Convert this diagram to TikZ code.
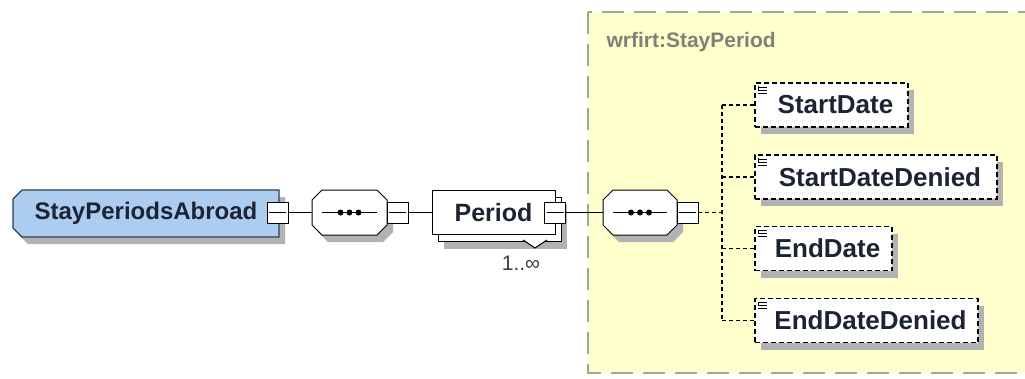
\documentclass[tikz,border=0pt]{standalone}
\usepackage{fontspec}
\setmainfont{Liberation Sans}
\usetikzlibrary{shadows,calc}
\pgfdeclarelayer{background}
\pgfsetlayers{background,main}
\definecolor{spablue}{RGB}{172,204,240}
\definecolor{spaborder}{RGB}{45,60,80}
\definecolor{ybg}{RGB}{255,255,206}
\definecolor{yborder}{RGB}{165,165,150}
\definecolor{shadowgray}{RGB}{178,178,178}
\definecolor{txtdark}{RGB}{28,36,52}
\definecolor{labelgray}{RGB}{128,128,120}
\tikzset{
  shd/.style={drop shadow={shadow xshift=6pt,shadow yshift=-7pt,fill=shadowgray,opacity=1}},
  bigtext/.style={font=\fontsize{25}{30}\selectfont\bfseries, text=txtdark},
  roottext/.style={font=\fontsize{24}{30}\selectfont\bfseries, text=txtdark},
  elemtext/.style={font=\fontsize{26}{30}\selectfont\bfseries, text=txtdark},
  shapebox/.style={inner sep=0pt, outer sep=0pt},
  minusbox/.style={draw=black, fill=white, minimum size=21pt, inner sep=0pt, outer sep=0pt, line width=1pt,
    path picture={\draw[line width=1pt] ([xshift=2pt]path picture bounding box.west) -- ([xshift=-2pt]path picture bounding box.east);}},
  elem/.style={draw=black, fill=white, line width=1.3pt, dash pattern=on 5pt off 3pt, shd, inner sep=0pt, outer sep=0pt, minimum height=44pt, elemtext},
  conn/.style={draw=black, line width=1pt},
  dconn/.style={draw=black, line width=1.2pt, dash pattern=on 4pt off 3pt},
}
\newcommand{\seqshape}[1]{%
  \path[draw=black, fill=white, line width=1pt, shd]
    ([xshift=10pt]#1.north west) -- ([xshift=-10pt]#1.north east) -- ([yshift=-10pt]#1.north east)
    -- ([yshift=10pt]#1.south east) -- ([xshift=-10pt]#1.south east) -- ([xshift=10pt]#1.south west)
    -- ([yshift=10pt]#1.south west) -- ([yshift=-10pt]#1.north west) -- cycle;
  \draw[line width=1pt] ([xshift=10pt]#1.west) -- ([xshift=-10pt]#1.east);
  \fill ([xshift=-9pt]#1.center) circle (3pt) (#1.center) circle (3pt) ([xshift=9pt]#1.center) circle (3pt);}
\newcommand{\elemicon}[1]{%
  \draw[line width=0.8pt] ([xshift=3pt,yshift=-4pt]#1.north west) -- ++(9pt,0pt)
    ([xshift=3pt,yshift=-7pt]#1.north west) -- ++(9pt,0pt)
    ([xshift=3pt,yshift=-10pt]#1.north west) -- ++(9pt,0pt)
    ([xshift=3pt,yshift=-3pt]#1.north west) -- ++(0pt,-4pt);}
\begin{document}
\begin{tikzpicture}[x=1pt,y=-1pt]
\useasboundingbox (0,0) rectangle (1025,378);
\node[anchor=west, font=\fontsize{21}{25}\selectfont\bfseries, text=labelgray] (typename) at (603,42) {wrfirt:StayPeriod};

% root element
\node[shapebox, roottext, minimum width=266pt, minimum height=47pt] (spa) at (146,213.5) {StayPeriodsAbroad\hspace{18pt}};
\node[minusbox] (m1) at (277.5,212.5) {};
% sequence 1
\node[shapebox, minimum width=75pt, minimum height=45pt] (s1) at (349.5,212.5) {};
\node[minusbox] (m2) at (397.5,212.5) {};
% Period
\node[shapebox, bigtext, minimum width=123pt, minimum height=44pt] (per) at (493.5,212.5) {Period\hspace{7pt}};
\node[minusbox] (m3) at (555,212.5) {};
\node[font=\fontsize{21}{25}\selectfont, text=black!75] (card) at (521,263) {1..∞};
% sequence 2
\node[shapebox, minimum width=74pt, minimum height=45pt] (s2) at (640,212.5) {};
\node[minusbox] (m4) at (687.5,212.5) {};
\coordinate (bus) at (722,212.5);
% child elements
\node[elem, minimum width=153pt] (sd) at (831.5,105) {\hspace{8pt}StartDate};
\node[elem, minimum width=242pt] (sdd) at (876,177) {\hspace{8pt}StartDateDenied};
\node[elem, minimum width=137pt] (ed) at (823.5,248.5) {\hspace{8pt}EndDate};
\node[elem, minimum width=223pt] (edd) at (866.5,320.5) {\hspace{8pt}EndDateDenied};
\elemicon{sd}\elemicon{sdd}\elemicon{ed}\elemicon{edd}

\begin{pgfonlayer}{background}
  \fill[white] (0,0) rectangle (1025,378);
  \begin{scope}
    \clip (0,0) rectangle (1025,378);
    \path[draw=yborder, fill=ybg, line width=2pt, dash pattern=on 22pt off 10pt] (588,12) rectangle (1045,373);
  \end{scope}
  \path[draw=spaborder, fill=spablue, line width=1.3pt, shd]
    ([xshift=9pt]spa.north west) -- (spa.north east) -- (spa.south east)
    -- ([xshift=9pt]spa.south west) -- ([yshift=9pt]spa.south west) -- ([yshift=-9pt]spa.north west) -- cycle;
  \seqshape{s1}
  \seqshape{s2}
  \path[draw=black, fill=white, line width=1pt, shd]
    ([xshift=6pt,yshift=-7pt]per.north west) rectangle ([xshift=6pt,yshift=-7pt]per.south east);
  \path[draw=black, fill=white, line width=1pt] (per.north west) rectangle (per.south east);
  \path[draw=black, fill=white, line width=1pt] (523,240) -- (535,248) -- (547,240);
\end{pgfonlayer}

% connectors
\draw[conn] (m1.east) -- (s1.west);
\draw[conn] (m2.east) -- (per.west);
\draw[conn] (m3.east) -- (s2.west);
\draw[dconn] (m4.east) -- (bus);
\draw[dconn] (sd.west -| bus) -- (edd.west -| bus);
\draw[dconn] (sd.west -| bus) -- (sd.west);
\draw[dconn] (sdd.west -| bus) -- (sdd.west);
\draw[dconn] (ed.west -| bus) -- (ed.west);
\draw[dconn] (edd.west -| bus) -- (edd.west);
\end{tikzpicture}
\end{document}
